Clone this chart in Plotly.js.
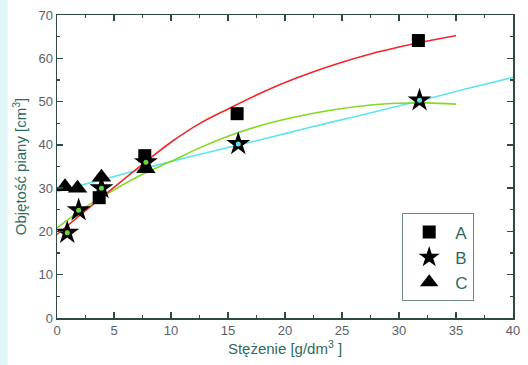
<!DOCTYPE html>
<html><head><meta charset="utf-8">
<script src="https://cdn.plot.ly/plotly-3.0.1.min.js"></script>
<style>html,body{margin:0;padding:0;background:#fff}#c{width:528px;height:365px}</style>
</head><body><div id="c"></div>
<script>
// Measured points
const aX = [3.7, 7.7, 15.8, 31.7];
const aY = [27.8, 37.5, 47.2, 64.1];
const bX = [0.9, 1.9, 3.9, 7.8, 15.9, 31.8];
const bY = [19.7, 24.9, 30.0, 36.0, 40.2, 50.3];
const cX = [0.7, 1.8, 3.9, 7.8];
const cY = [30.3, 30.0, 32.5, 34.5];
// Fitted curves
const fitAX = [0, 2.5, 5, 7.5, 10, 12.5, 15, 17.5, 20, 22.5, 25, 27.5, 30, 32.5, 35];
const fitAY = [19.3, 24.8, 30.2, 35.5, 40.6, 44.9, 48.3, 51.5, 54.4, 56.9, 59.1, 61.0, 62.6, 64.0, 65.2];
const fitBX = [0, 2.5, 5, 7.5, 10, 12.5, 15, 17.5, 20, 22.5, 25, 27.5, 30, 32.5, 35];
const fitBY = [20.8, 25.6, 29.6, 33.2, 36.2, 39.3, 42.0, 44.2, 45.9, 47.3, 48.4, 49.2, 49.6, 49.7, 49.4];
const fitCX = [0, 4, 8, 12, 16, 20, 24, 28, 32, 36, 40];
const fitCY = [29.2, 32.0, 34.8, 37.5, 40.0, 42.6, 45.2, 47.7, 50.3, 53.0, 55.6];
const starCenter = ['#6bd23a', '#6bd23a', '#6bd23a', '#6bd23a', '#5fe0e8', '#5fe0e8'];
const names = ['A', 'B', 'C'];

const font = 'Liberation Sans, Arial, sans-serif';
const traces = [
  {x: fitCX, y: fitCY, mode: 'lines', line: {color: '#5fe3ef', width: 1.6, shape: 'spline'}, showlegend: false, hoverinfo: 'skip'},
  {x: fitBX, y: fitBY, mode: 'lines', line: {color: '#84d921', width: 1.6, shape: 'spline'}, showlegend: false, hoverinfo: 'skip'},
  {x: fitAX, y: fitAY, mode: 'lines', line: {color: '#f0282a', width: 1.6, shape: 'spline'}, showlegend: false, hoverinfo: 'skip'},
  {x: cX, y: cY, mode: 'markers', name: names[2], legendrank: 3, marker: {symbol: 'triangle-up', size: 17, color: '#000'}},
  {x: aX, y: aY, mode: 'markers', name: names[0], legendrank: 1, marker: {symbol: 'square', size: 13, color: '#000'}},
  {x: bX, y: bY, mode: 'markers', name: names[1], legendrank: 2, marker: {symbol: 'star', size: 18, color: '#000', line: {width: 0}}},
  {x: bX, y: bY, mode: 'markers', showlegend: false, hoverinfo: 'skip', marker: {symbol: 'circle', size: 5, color: starCenter, line: {width: 0}}}
];

const axisCommon = {
  showline: true, linecolor: '#2f4a3e', linewidth: 1.5, mirror: 'allticks',
  ticks: 'inside', ticklen: 6, tickcolor: '#2f4a3e', tickwidth: 1.3,
  showgrid: false, zeroline: false,
  tickfont: {family: font, size: 13, color: '#5a6068'}
};

const layout = {
  width: 528, height: 365,
  margin: {l: 57, r: 15, t: 15, b: 47},
  paper_bgcolor: '#fff', plot_bgcolor: '#fff',
  xaxis: Object.assign({}, axisCommon, {
    range: [0, 40], dtick: 5, tick0: 0,
    minor: {dtick: 2.5, ticks: 'inside', ticklen: 3, tickcolor: '#2f4a3e'},
    title: {text: 'Stężenie [g/dm<sup>3</sup> ]', standoff: 6, font: {family: font, size: 15, color: '#2e6b5c'}}
  }),
  yaxis: Object.assign({}, axisCommon, {
    range: [0, 70], dtick: 10, tick0: 0,
    minor: {dtick: 5, ticks: 'inside', ticklen: 3, tickcolor: '#2f4a3e'},
    title: {text: 'Objętość piany [cm<sup>3</sup>]', standoff: 8, font: {family: font, size: 15, color: '#2e6b5c'}}
  }),
  legend: {
    x: 0.757, y: 0.345, xanchor: 'left', yanchor: 'top',
    bgcolor: '#fff', bordercolor: '#6f8a80', borderwidth: 1,
    traceorder: 'normal',
    font: {family: font, size: 17, color: '#2e6b5c'},
    itemwidth: 42, tracegroupgap: 0
  },
  shapes: [
    {type: 'rect', xref: 'paper', yref: 'paper', x0: -0.125, x1: -0.108, y0: -0.16, y1: 1.05, fillcolor: 'rgba(205,242,242,0.6)', line: {width: 0}, layer: 'below'}
  ],
  showlegend: true
};

Plotly.newPlot('c', traces, layout, {displayModeBar: false, staticPlot: true});
</script>
</body></html>
